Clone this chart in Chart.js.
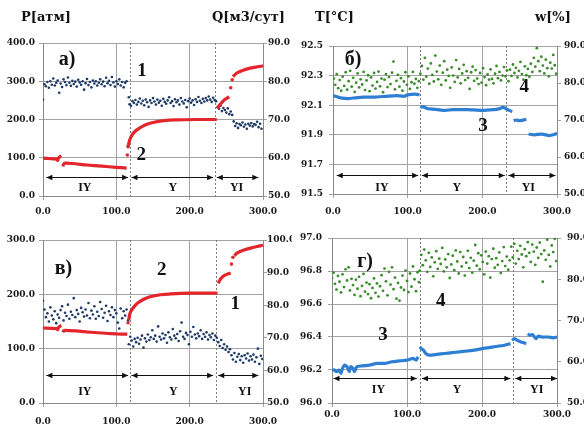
<!DOCTYPE html>
<html><head><meta charset="utf-8">
<script src="https://cdn.jsdelivr.net/npm/chart.js@4"></script>
<style>
html,body{margin:0;padding:0;background:#fff;}
#wrap{position:relative;width:584px;height:429px;overflow:hidden;background:#fff;}
canvas{position:absolute;}
.t{position:absolute;font-family:'DejaVu Serif',serif;font-weight:bold;font-size:13px;color:#111;white-space:nowrap;line-height:1;}
</style></head><body>
<div id="wrap">
<canvas id="cA" width="292" height="218" style="left:0px;top:0px"></canvas>
<canvas id="cB" width="292" height="218" style="left:292px;top:0px"></canvas>
<canvas id="cC" width="292" height="211" style="left:0px;top:218px"></canvas>
<canvas id="cD" width="292" height="211" style="left:292px;top:218px"></canvas>
<div class="t" style="left:21px;top:10px">P[атм]</div>
<div class="t" style="left:212px;top:10px">Q[м3/сут]</div>
<div class="t" style="left:315px;top:10px">T[°C]</div>
<div class="t" style="left:535px;top:10px">w[%]</div>
</div>
<script>
// ---------- shared axis values ----------
const xTicksMinMax = [0, 300];
const regimeNames = ['IY', 'Y', 'YI'];

// ---------- panel а): P (series 1) and Q (series 2) ----------
const aP = [[0,252],[2,292],[4,287],[6,298],[8,283],[10,300],[12,291],[14,307],[16,289],[18,296],[20,302],[22,270],[24,294],[26,285],[28,305],[30,298],[32,290],[34,310],[36,296],[38,288],[40,301],[42,293],[44,299],[46,286],[48,304],[50,297],[52,291],[54,300],[56,278],[58,295],[60,306],[62,290],[64,298],[66,284],[68,302],[70,294],[72,300],[74,289],[76,296],[78,305],[80,292],[82,299],[84,287],[86,309],[88,295],[90,301],[92,290],[94,311],[96,297],[98,286],[100,300],[102,293],[104,305],[106,289],[108,298],[110,284],[112,296],[114,300],
[117,258],[118,240],[120,236],[122,248],[124,243],[126,251],[128,239],[130,246],[132,255],[134,242],[136,249],[138,237],[140,252],[142,245],[144,233],[146,250],[148,243],[150,256],[152,247],[154,239],[156,252],[158,244],[160,249],[162,236],[164,254],[166,246],[168,241],[170,250],[172,258],[174,243],[176,248],[178,235],[180,253],[182,245],[184,250],[186,239],[188,256],[190,247],[192,242],[194,251],[196,232],[198,248],[200,255],[202,244],[204,250],[206,238],[208,253],[210,246],[212,259],[214,249],[216,243],[218,254],[220,247],[222,256],[224,250],[226,260],[228,252],[230,246],[232,257],[234,251],[236,248],
[238,232],[240,228],[242,236],[244,222],[246,230],[248,225],[250,218],[252,229],[254,214],[256,221],[258,212],
[260,195],[262,183],[264,190],[266,178],[268,188],[270,185],[272,192],[274,181],[276,187],[278,176],[280,189],[282,184],[284,191],[286,182],[288,188],[290,186],[292,194],[294,180],[296,189],[298,176]];
const aQ1 = [[0,59.9],[8,59.8],[16,59.7],[19,59.6],[20,59.3],[21,59.9],[24,60.4],[25,60.5]];
const aQ2 = [[27,57.7],[28,58.3],[30,58.6],[40,58.5],[60,58.1],[80,57.8],[100,57.5],[114,57.3]];
const aQ3 = [[116,62.9],[118,64.5],[121,65.8],[125,66.8],[132,67.8],[140,68.6],[150,69.2],[165,69.7],[180,69.9],[210,70.0],[237,70.0]];
const aQ4 = [[238,72.9],[240,73.6],[244,74.5],[248,75.2],[251,75.6],[254,75.9]];
const aQ5 = [[259,81.2],[262,81.8],[266,82.3],[272,82.8],[280,83.3],[290,83.7],[300,84.0]];
const aQdots = [[115,60.7],[116,62.9],[256,78.3],[258,80.4]];

// ---------- panel б): T (series 3) and w (series 4) ----------
const bT1 = [[0,92.165],[3,92.16],[10,92.15],[20,92.145],[30,92.15],[40,92.155],[55,92.155],[70,92.16],[85,92.165],[95,92.16],[100,92.17],[110,92.175],[116,92.17]];
const bT2 = [[117,92.085],[120,92.09],[125,92.08],[130,92.075],[140,92.07],[150,92.065],[160,92.07],[180,92.07],[200,92.065],[215,92.07],[222,92.075],[228,92.085],[232,92.075],[236,92.065],[240,92.056]];
const bT3 = [[242,91.995],[245,92.0],[250,91.995],[255,92.0],[259,92.005]];
const bT4 = [[262,91.905],[270,91.9],[280,91.905],[290,91.895],[295,91.9],[300,91.91]];
const bW = [[1,81.2],[3,79.5],[5,82.4],[7,78.6],[9,80.8],[11,77.9],[13,81.7],[15,79.2],[17,82.9],[19,78.2],[21,80.5],[23,83.3],[25,79.0],[27,81.4],[29,77.6],[31,80.1],[33,82.6],[35,78.8],[37,81.0],[39,79.6],[41,83.0],[43,78.1],[45,80.7],[47,82.1],[49,77.8],[51,81.5],[53,79.3],[55,82.7],[57,78.5],[59,80.3],[61,83.1],[63,79.1],[65,81.2],[67,77.5],[69,80.9],[71,82.4],[73,78.9],[75,81.6],[77,79.7],[79,82.8],[81,85.8],[83,78.3],[85,80.6],[87,82.2],[89,79.0],[91,81.3],[93,77.9],[95,80.4],[97,82.9],[99,79.5],[101,81.8],[103,78.4],[105,80.2],[107,83.0],[109,79.8],[111,81.1],[113,78.7],[115,80.5],
[117,82.5],[119,84.6],[121,80.9],[123,86.8],[125,81.7],[127,83.9],[129,79.8],[131,85.3],[133,82.2],[135,80.4],[137,87.4],[139,83.1],[141,81.0],[143,84.7],[145,79.5],[147,82.8],[149,85.9],[151,80.7],[153,83.6],[155,81.9],[157,78.7],[159,84.2],[161,82.0],[163,80.3],[165,86.2],[167,81.5],[169,83.8],[171,79.9],[173,82.6],[175,84.9],[177,80.8],[179,83.2],[181,81.4],[183,78.4],[185,82.9],[187,84.4],[189,80.6],[191,83.5],[193,81.2],[195,79.7],[197,82.7],[199,80.1],[201,84.0],[203,81.6],[205,79.4],[207,82.3],[209,80.9],[211,83.7],[213,81.1],[215,79.9],[217,82.5],[219,84.6],[221,81.3],[223,83.0],[225,80.7],[227,82.0],[229,84.3],[231,81.8],[233,83.4],[235,80.5],
[237,83.6],[239,81.9],[241,85.0],[243,82.7],[245,84.1],[247,81.5],[249,83.3],[251,85.7],[253,82.4],[255,80.9],[257,84.5],[259,82.1],[261,83.8],[263,81.7],[265,85.2],[267,83.0],[269,86.8],[271,84.4],[273,89.4],[275,85.9],[277,83.2],[279,87.1],[281,84.7],[283,82.6],[285,86.3],[287,84.0],[289,81.8],[291,85.5],[293,83.9],[295,87.6],[297,84.8],[299,82.5]];

// ---------- panel в): P (series 1) and Q (series 2) ----------
const cP = [[0,188],[2,172],[4,158],[6,165],[8,150],[10,176],[12,161],[14,154],[16,169],[18,147],[20,163],[22,157],[24,171],[26,178],[28,152],[30,166],[32,160],[34,181],[36,155],[38,168],[40,162],[42,193],[44,158],[46,171],[48,164],[50,150],[52,175],[54,167],[56,159],[58,172],[60,161],[62,184],[64,156],[66,170],[68,163],[70,178],[72,155],[74,168],[76,160],[78,186],[80,173],[82,157],[84,166],[86,179],[88,151],[90,169],[92,162],[94,176],[96,158],[98,171],[100,165],[102,148],[104,137],[106,174],[108,156],[110,169],[112,161],[114,172],[116,152],
[117,108],[119,122],[121,115],[123,104],[125,118],[127,112],[129,120],[131,109],[133,117],[135,124],[137,102],[139,119],[141,113],[143,126],[145,116],[147,121],[149,134],[151,118],[153,124],[155,113],[157,141],[159,122],[161,117],[163,128],[165,119],[167,125],[169,111],[171,130],[173,121],[175,117],[177,136],[179,124],[181,119],[183,127],[185,114],[187,132],[189,148],[191,122],[193,118],[195,129],[197,125],[199,108],[201,131],[203,122],[205,140],[207,126],[209,119],[211,128],[213,123],[215,134],[217,118],[219,127],[221,122],[223,130],[225,117],[227,125],[229,121],[231,128],[233,116],[235,124],[237,120],
[239,112],[241,105],[243,116],[245,101],[247,108],[249,98],[251,104],[253,94],[255,99],[257,88],[259,80],[261,92],[263,76],[265,85],[267,90],[269,79],[271,86],[273,74],[275,88],[277,82],[279,91],[281,78],[283,86],[285,80],[287,89],[289,76],[291,84],[293,100],[295,72],[297,87],[299,81]];
const cQ1 = [[0,73.0],[10,72.9],[19,72.8],[20,72.5],[21,73.1],[24,73.7],[25,73.8]];
const cQ2 = [[27,71.7],[28,72.1],[30,72.3],[45,72.1],[65,71.7],[85,71.4],[100,71.2],[115,71.1]];
const cQ3 = [[117,75.5],[118,77.0],[120,78.2],[124,79.5],[130,80.8],[138,81.9],[146,82.6],[160,83.2],[175,83.5],[200,83.7],[238,83.7]];
const cQ4 = [[239,86.7],[241,87.6],[244,88.5],[248,89.2],[252,89.6],[256,89.8]];
const cQ5 = [[261,95.2],[264,95.9],[268,96.4],[275,97.0],[283,97.5],[292,98.0],[300,98.4]];
const cQdots = [[116,74.6],[257,92.6],[259,94.7]];

// ---------- panel г): T (series 3) and w (series 4) ----------
const dT1 = [[0,96.2],[3,96.2],[6,96.19],[9,96.2],[12,96.18],[14,96.21],[17,96.23],[20,96.22],[23,96.19],[25,96.22],[28,96.21],[30,96.19],[33,96.22],[40,96.225],[50,96.23],[60,96.24],[70,96.24],[80,96.25],[90,96.255],[100,96.26],[108,96.27],[112,96.26],[115,96.28]];
const dT2 = [[117,96.34],[119,96.33],[122,96.32],[125,96.3],[130,96.29],[140,96.295],[150,96.3],[160,96.305],[170,96.31],[180,96.315],[190,96.32],[200,96.33],[215,96.34],[230,96.35],[238,96.36]];
const dT3 = [[240,96.38],[243,96.39],[247,96.38],[252,96.37],[256,96.365],[259,96.36]];
const dT4 = [[261,96.42],[264,96.41],[267,96.415],[270,96.4],[272,96.39],[275,96.405],[280,96.4],[288,96.4],[295,96.395],[300,96.4]];
const dW = [[0,80.3],[2,81.6],[4,78.9],[6,77.5],[8,80.8],[10,79.4],[12,76.8],[14,81.2],[16,78.1],[18,82.4],[20,79.7],[22,82.9],[24,77.3],[26,80.1],[28,78.6],[30,76.2],[32,79.9],[34,77.7],[36,80.6],[38,75.9],[40,78.4],[42,81.3],[44,77.0],[46,79.2],[48,76.4],[50,78.8],[52,75.4],[54,77.9],[56,80.2],[58,76.7],[60,79.0],[62,75.8],[64,78.3],[66,81.0],[68,77.2],[70,82.6],[72,79.5],[74,76.1],[76,81.8],[78,78.7],[80,82.9],[82,77.6],[84,80.4],[86,75.3],[88,79.1],[90,74.8],[92,78.0],[94,80.9],[96,77.4],[98,82.1],[100,79.6],[102,76.9],[104,81.4],[106,78.2],[108,83.1],[110,80.0],[112,77.1],[114,81.7],[116,79.3],
[117,82.1],[119,85.9],[121,83.4],[123,87.2],[125,84.6],[127,81.8],[129,86.4],[131,83.0],[133,85.3],[135,80.7],[137,84.1],[139,86.8],[141,82.5],[143,85.0],[145,83.7],[147,87.6],[149,81.9],[151,84.8],[153,82.9],[155,86.1],[157,80.3],[159,83.6],[161,85.7],[163,82.2],[165,87.0],[167,84.3],[169,81.4],[171,86.6],[173,83.1],[175,85.4],[177,80.9],[179,84.0],[181,86.9],[183,82.7],[185,85.2],[187,81.6],[189,84.5],[191,88.3],[193,83.3],[195,86.3],[197,82.4],[199,85.8],[201,84.2],[203,81.2],[205,86.7],[207,83.8],[209,85.6],[211,80.4],[213,84.9],[215,87.4],[217,82.8],[219,85.1],[221,83.5],[223,86.5],[225,81.5],[227,84.4],[229,87.8],[231,83.2],[233,85.5],[235,82.3],
[237,84.6],[239,87.9],[241,85.3],[243,88.6],[245,83.8],[247,86.9],[249,84.9],[251,88.1],[253,86.0],[255,82.9],[257,87.3],[259,85.6],[261,89.0],[263,86.4],[265,84.2],[267,88.4],[269,86.7],[271,83.5],[273,87.7],[275,85.2],[277,88.9],[279,86.1],[281,79.4],[283,87.0],[285,84.7],[287,89.6],[289,85.9],[291,83.1],[293,88.2],[295,86.6],[297,89.8],[299,84.4]];

// ---------- styling ----------
const NAVY = '#1d3966', RED = '#e3262b', GREEN = '#3a8c2c', BLUE = '#2e7fd1';
const GRID = '#a3a3a3', BORDER = '#8a8a8a';
const tickFont = {family:'DejaVu Serif', weight:'bold', size:9};
const fmt = v => Number(v).toFixed(1);
const pts = arr => arr.map(p => ({x:p[0], y:p[1]}));

function scatterDS(arr, color, axis, r){
  return {type:'scatter', data:pts(arr), yAxisID:axis, showLine:false, pointRadius:r, pointHoverRadius:r, pointBorderWidth:0, backgroundColor:color, borderColor:color};
}
function lineDS(arr, color, axis){
  return {type:'scatter', data:pts(arr), yAxisID:axis, showLine:true, pointRadius:0, borderWidth:3.2, borderColor:color, backgroundColor:color, tension:0.2};
}

const annot = {
  id:'annot',
  beforeDatasetsDraw(chart, args, o){
    const {ctx, chartArea:a, scales:{x}} = chart;
    ctx.save(); ctx.strokeStyle = '#7a7a7a'; ctx.lineWidth = 1; ctx.setLineDash([2,2]);
    o.dashes.forEach(v => { const px = Math.round(x.getPixelForValue(v)) + 0.5; ctx.beginPath(); ctx.moveTo(px, a.top); ctx.lineTo(px, a.bottom); ctx.stroke(); });
    ctx.restore();
  },
  afterDatasetsDraw(chart, args, o){
    const {ctx, scales:{x, y}} = chart;
    ctx.save();
    ctx.strokeStyle = '#111'; ctx.fillStyle = '#111'; ctx.lineWidth = 1;
    const py = Math.round(y.getPixelForValue(o.arrowY)) + 0.5;
    const head = (px, dir) => { ctx.beginPath(); ctx.moveTo(px, py); ctx.lineTo(px + dir*6, py - 2.8); ctx.lineTo(px + dir*6, py + 2.8); ctx.closePath(); ctx.fill(); };
    o.arrows.forEach(([x1, x2]) => {
      const p1 = x.getPixelForValue(x1), p2 = x.getPixelForValue(x2);
      ctx.beginPath(); ctx.moveTo(p1, py); ctx.lineTo(p2, py); ctx.stroke();
      head(p1, 1); head(p2, -1);
    });
    ctx.textAlign = 'center'; ctx.textBaseline = 'middle';
    o.regimeX.forEach((vx, i) => { ctx.font = 'bold 12px "Liberation Serif"'; ctx.fillText(regimeNames[i], x.getPixelForValue(vx), y.getPixelForValue(o.regimeY)); });
    o.texts.forEach(t => { ctx.font = t.font; ctx.fillText(t.s, x.getPixelForValue(t.x), y.getPixelForValue(t.y)); });
    ctx.restore();
  }
};

function makeChart(id, cfg){
  const yL = {type:'linear', position:'left', min:cfg.yL[0], max:cfg.yL[1],
    ticks:{stepSize:cfg.yL[2], callback:fmt, font:tickFont, color:'#1a1a1a', padding:cfg.padL},
    grid:{color:GRID, tickLength:4}, border:{color:BORDER},
    afterFit: s => { s.width = cfg.wL; }};
  const yR = {type:'linear', position:'right', min:cfg.yR[0], max:cfg.yR[1],
    ticks:{stepSize:cfg.yR[2], callback:fmt, font:tickFont, color:'#1a1a1a', padding:cfg.padR},
    grid:{drawOnChartArea:false, color:GRID, tickLength:4}, border:{color:BORDER},
    afterFit: s => { s.width = cfg.wR; }};
  const xs = {type:'linear', position:'bottom', min:xTicksMinMax[0], max:xTicksMinMax[1],
    ticks:{stepSize:100, callback:fmt, font:tickFont, color:'#1a1a1a', padding:cfg.padX, maxRotation:0, autoSkip:false},
    grid:{color:GRID, tickLength:4}, border:{color:BORDER},
    afterFit: s => { s.height = cfg.hX; }};
  return new Chart(document.getElementById(id), {
    type:'scatter',
    data:{datasets:cfg.datasets},
    options:{responsive:false, animation:false, devicePixelRatio:1,
      layout:{padding:{top:cfg.top, left:0, right:0, bottom:0}},
      plugins:{legend:{display:false}, tooltip:{enabled:false}, annot:cfg.annot},
      scales:{x:xs, y:yL, y2:yR}},
    plugins:[annot]
  });
}

const bigF = 'bold 20px "Liberation Serif"', numF = 'bold 19px "Liberation Serif"';

makeChart('cA', {yL:[0,400,100], yR:[50,90,10], wL:43, wR:29, hX:22, top:43, padL:4, padR:1, padX:6,
  datasets:[lineDS(aQ1,RED,'y2'), lineDS(aQ2,RED,'y2'), lineDS(aQ3,RED,'y2'), lineDS(aQ4,RED,'y2'), lineDS(aQ5,RED,'y2'),
    scatterDS(aQdots,RED,'y2',1.8), scatterDS(aP,NAVY,'y',1.3)],
  annot:{dashes:[118,235], arrowY:50.5, arrows:[[4.6,116],[120.7,232],[237,293.6]], regimeY:21, regimeX:[57,177,264],
    texts:[{s:'а)', x:33, y:355, font:bigF}, {s:'1', x:135, y:327, font:numF}, {s:'2', x:134, y:107, font:numF}]}});

makeChart('cB', {yL:[91.5,92.5,0.2], yR:[50,90,10], wL:41, wR:27, hX:24, top:46, padL:6, padR:3, padX:8,
  datasets:[scatterDS(bW,GREEN,'y2',1.4), lineDS(bT1,BLUE,'y'), lineDS(bT2,BLUE,'y'), lineDS(bT3,BLUE,'y'), lineDS(bT4,BLUE,'y')],
  annot:{dashes:[116,232], arrowY:91.628, arrows:[[5,114],[119,230],[235,298]], regimeY:91.54, regimeX:[65.6,166,261.6],
    texts:[{s:'б)', x:27, y:92.405, font:bigF}, {s:'4', x:256, y:92.22, font:numF}, {s:'3', x:201, y:91.96, font:numF}]}});

makeChart('cC', {yL:[0,300,100], yR:[50,100,10], wL:43, wR:29, hX:26, top:22, padL:4, padR:0, padX:9,
  datasets:[lineDS(cQ1,RED,'y2'), lineDS(cQ2,RED,'y2'), lineDS(cQ3,RED,'y2'), lineDS(cQ4,RED,'y2'), lineDS(cQ5,RED,'y2'),
    scatterDS(cQdots,RED,'y2',1.8), scatterDS(cP,NAVY,'y',1.3)],
  annot:{dashes:[118,236], arrowY:51.5, arrows:[[4.6,116],[120.7,232],[239,293.6]], regimeY:21, regimeX:[57,177.6,275],
    texts:[{s:'в)', x:28, y:247.5, font:bigF}, {s:'2', x:162, y:245, font:numF}, {s:'1', x:262, y:182, font:numF}]}});

makeChart('cD', {yL:[96.0,97.0,0.2], yR:[50,90,10], wL:40, wR:27, hX:26, top:20, padL:6, padR:6, padX:2,
  datasets:[scatterDS(dW,GREEN,'y2',1.4), lineDS(dT1,BLUE,'y'), lineDS(dT2,BLUE,'y'), lineDS(dT3,BLUE,'y'), lineDS(dT4,BLUE,'y')],
  annot:{dashes:[117,241], arrowY:96.15, arrows:[[2,113],[120,237.8],[244.4,300]], regimeY:96.08, regimeX:[62,166.7,273],
    texts:[{s:'г)', x:44, y:96.855, font:bigF}, {s:'4', x:145, y:96.62, font:numF}, {s:'3', x:68, y:96.41, font:numF}]}});
</script>
</body></html>
